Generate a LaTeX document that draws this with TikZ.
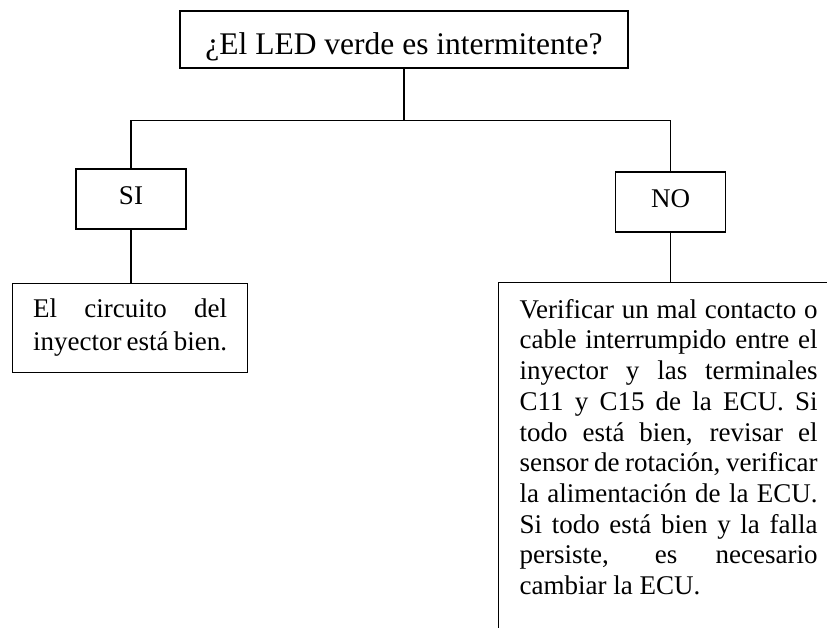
\documentclass[tikz,border=0pt]{standalone}
\usepackage{fontspec}
\setmainfont{Liberation Serif}
\usetikzlibrary{positioning}

\begin{document}
\begin{tikzpicture}[x=1pt, y=-1pt, line width=1.2pt, every node/.style={inner sep=0pt},
 q/.style={draw,minimum width=448pt,minimum height=57pt,font=\fontsize{31.5}{36}\selectfont,text height=41pt,text depth=10pt},
 yn/.style={draw,minimum width=110pt,minimum height=60pt,font=\fontsize{27}{31}\selectfont,text height=18pt,text depth=6pt},
 ans/.style={draw,anchor=north west,align=justify,inner xsep=20.5pt,inner ysep=15.6pt,font=\fontsize{27}{33}\selectfont}]
\useasboundingbox (0,0) rectangle (827,628);
\clip (0,0) rectangle (827,628);
\node[q] (led) at (404,39.5) {¿El LED verde es intermitente?};
\node[yn] (si) at (131,199) {SI};
\node[yn] (no) at (670.5,202) {NO};
\node[ans,text width=194pt] (ok) at (12,283) {El circuito del\linebreak inyector está bien.};
\node[ans,text width=298pt,inner xsep=21pt,inner ysep=16.6pt,font=\fontsize{27}{30.7}\selectfont] (fix) at (498,282)
 {Verificar un mal contacto o\linebreak cable interrumpido entre el\linebreak inyector y las terminales\linebreak C11 y C15 de la ECU. Si\linebreak todo está bien, revisar el\linebreak sensor de rotación, verificar\linebreak la alimentación de la ECU.\linebreak Si todo está bien y la falla\linebreak persiste, es necesario\linebreak cambiar la ECU.\par\rule{0pt}{80pt}};
\path (led.south) ++(0,52) coordinate (split);
\draw (led.south) -- (split) -| (si.north);
\draw (split) -| (no.north);
\draw (si.south) -- (si.south |- ok.north);
\draw (no.south) -- (no.south |- fix.north);
\end{tikzpicture}
\end{document}
